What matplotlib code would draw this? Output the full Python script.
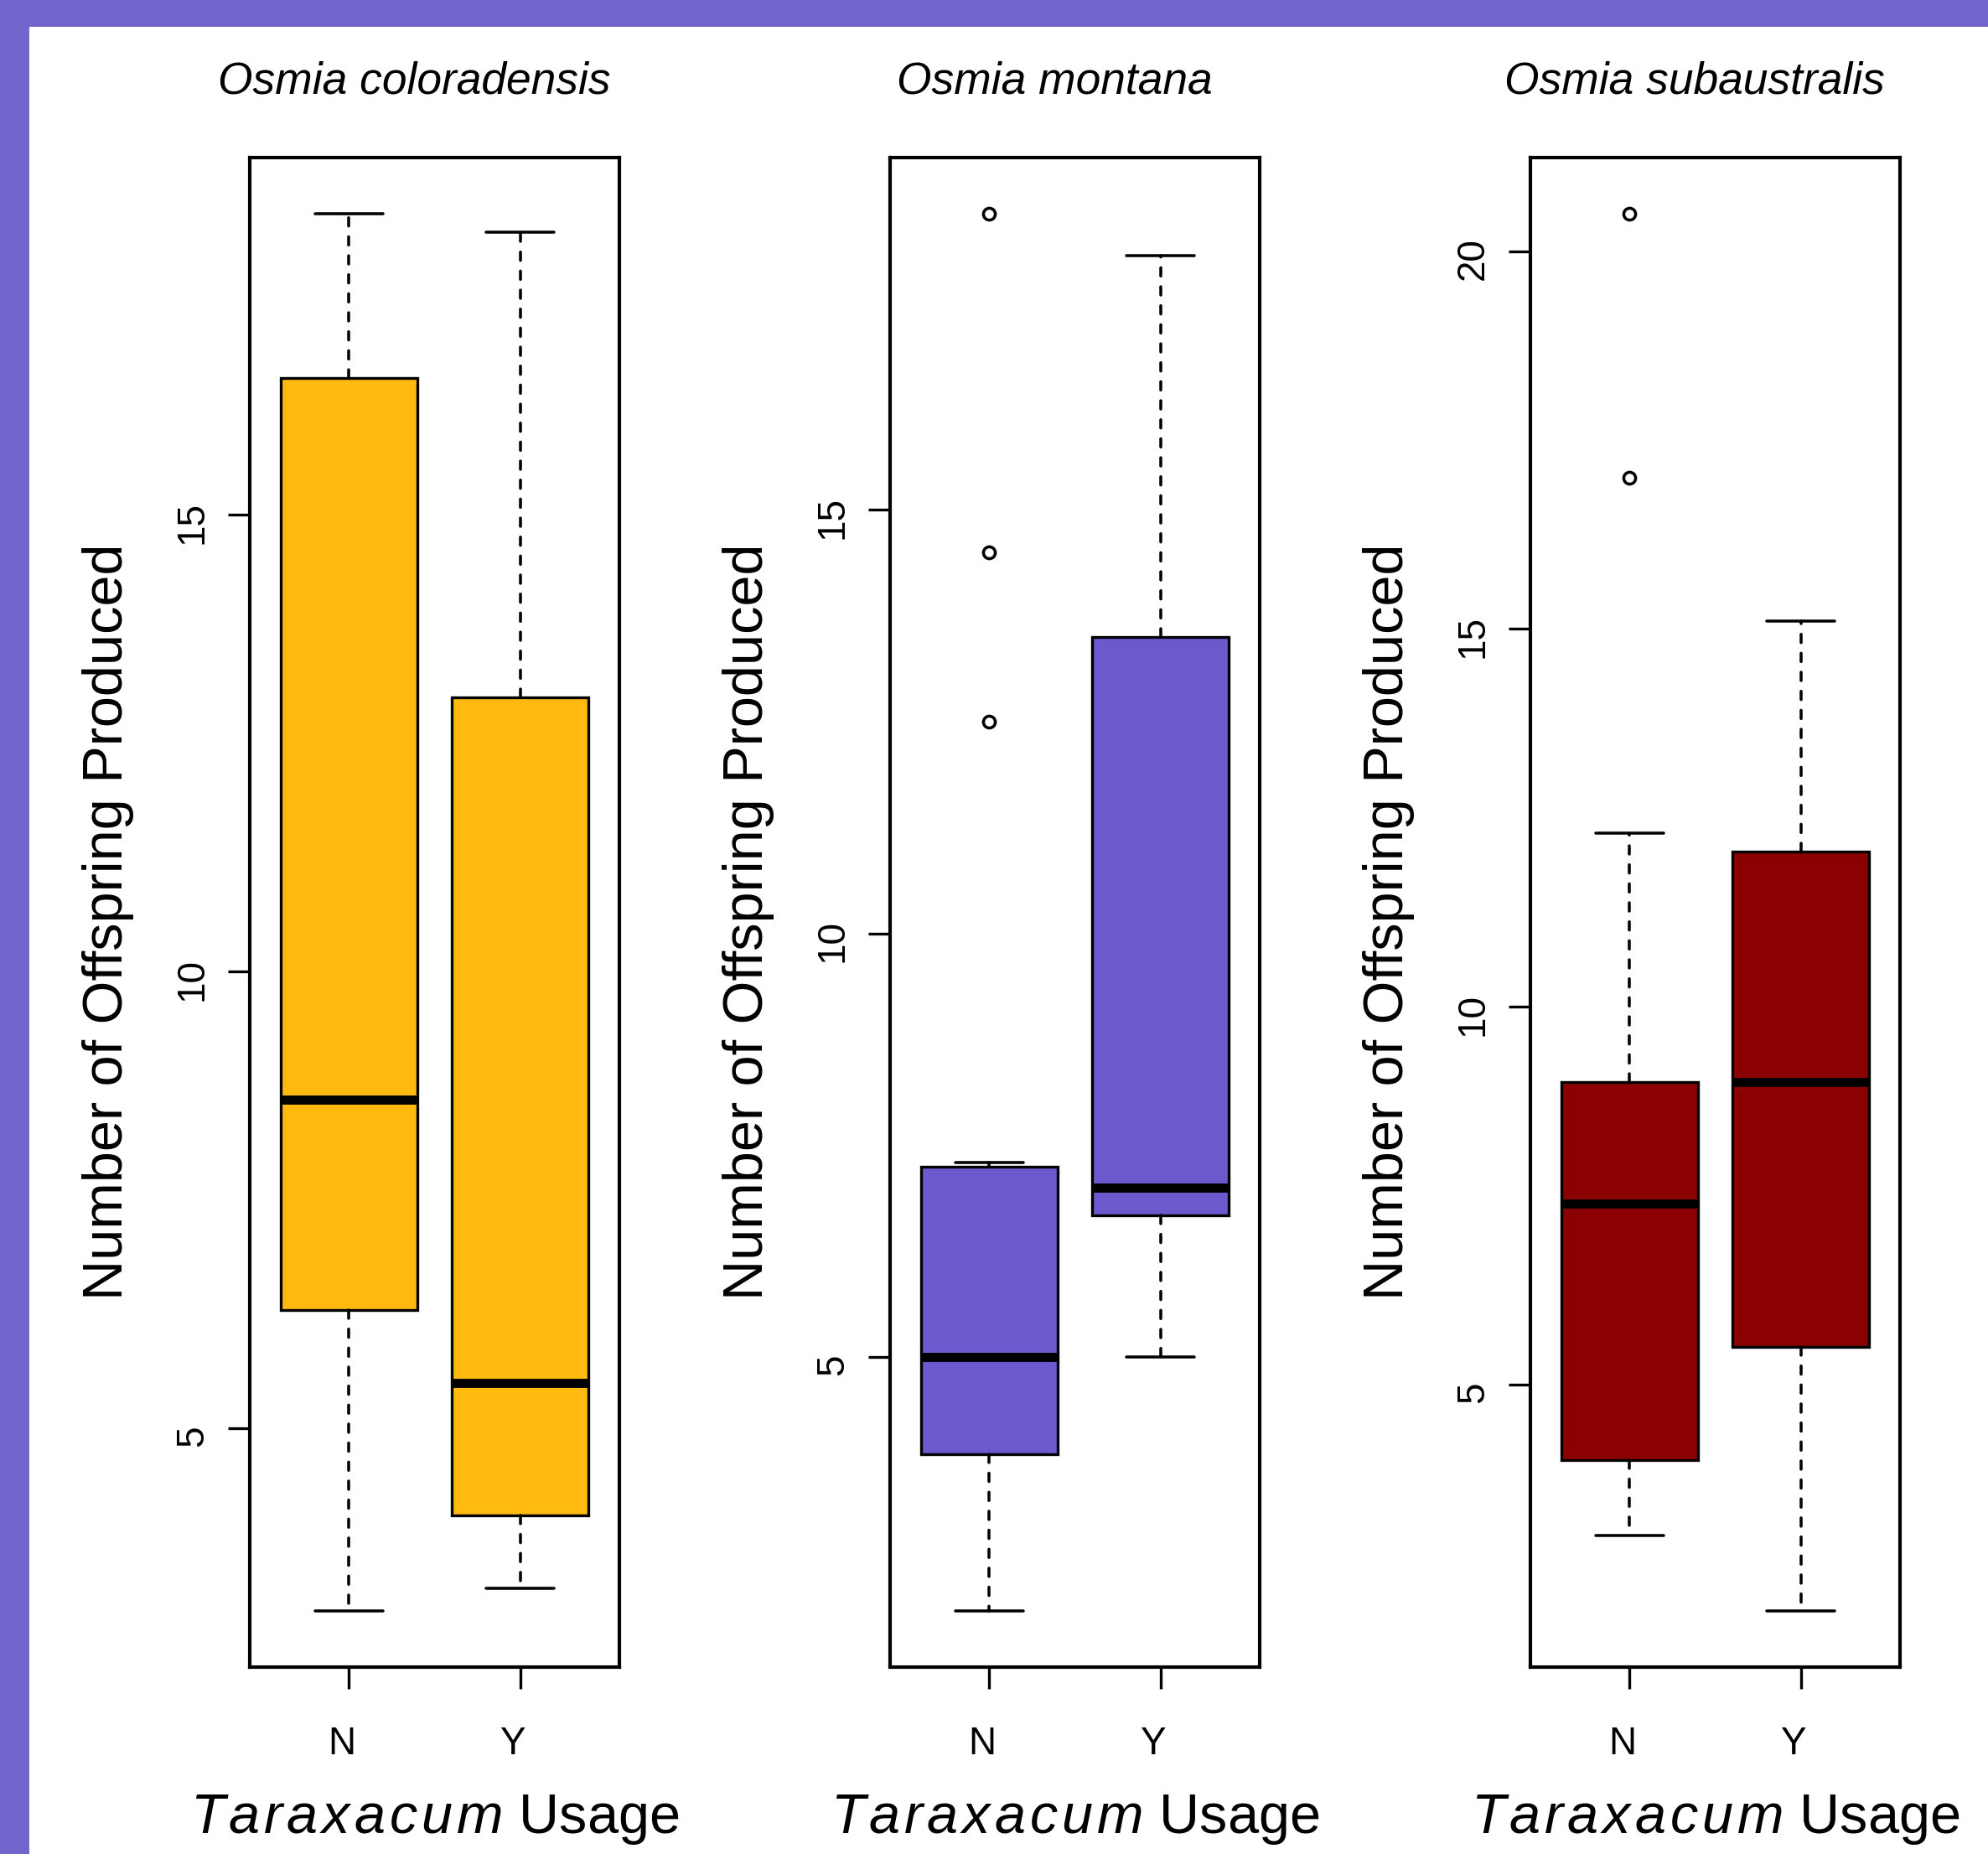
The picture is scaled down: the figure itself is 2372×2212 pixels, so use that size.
import numpy as np
import matplotlib
matplotlib.use('Agg')
import matplotlib.pyplot as plt
from matplotlib.patches import Rectangle
from matplotlib.transforms import ScaledTranslation

plt.rcParams['font.family'] = ['Liberation Sans', 'DejaVu Sans']
plt.rcParams['mathtext.fontset'] = 'custom'
plt.rcParams['mathtext.it'] = 'Liberation Sans:italic'
plt.rcParams['mathtext.rm'] = 'Liberation Sans'

# data, one entry per species, [N, Y]
species = ['Osmia coloradensis', 'Osmia montana', 'Osmia subaustralis']
groups = ['N', 'Y']
colors = ['#FFB90F', '#6A5ACD', '#8B0000']
whislo = [[3.0, 3.25], [2.0, 5.0], [3.0, 2.0]]
q1 = [[6.3, 4.05], [3.85, 6.67], [4.0, 5.5]]
med = [[8.6, 5.5], [5.0, 7.0], [7.4, 9.0]]
q3 = [[16.5, 13.0], [7.25, 13.5], [9.0, 12.05]]
whishi = [[18.3, 18.1], [7.3, 18.0], [12.3, 15.1]]
fliers = [[[], []], [[12.5, 14.5, 18.5], []], [[17.0, 20.5], []]]
yticks = [[5, 10, 15], [5, 10, 15], [5, 10, 15, 20]]

W, H = 2372, 2212
DPI = 300
fig = plt.figure(figsize=(W / DPI, H / DPI), dpi=DPI)
fig.patch.set_facecolor('#7265cc')
fig.patches.append(Rectangle((35 / W, 0), 1, 1 - 32 / H, transform=fig.transFigure,
                             facecolor='white', edgecolor='none', zorder=-10))

lefts = [298, 1062, 1826]
aw = 441
bottom, top = 1989, 188

xlab = r'$' + r'\hspace{0.09}'.join(r'\mathit{%s}' % c for c in 'Taraxacum') + r'$ Usage'

def shift(px_x, px_y):
    return ScaledTranslation(px_x / DPI, px_y / DPI, fig.dpi_scale_trans)

for i in range(3):
    ax = fig.add_axes([lefts[i] / W, 1 - bottom / H, aw / W, (bottom - top) / H])
    ax.set_zorder(1)
    stats = []
    for j in range(2):
        stats.append(dict(whislo=whislo[i][j], q1=q1[i][j], med=med[i][j],
                          q3=q3[i][j], whishi=whishi[i][j], fliers=fliers[i][j]))
    ax.bxp(stats, positions=[1, 2], widths=0.8, capwidths=0.4, patch_artist=True,
           manage_ticks=False,
           boxprops=dict(facecolor=colors[i], edgecolor='black', linewidth=0.8),
           medianprops=dict(color='black', linewidth=2.6, solid_capstyle='butt'),
           whiskerprops=dict(color='black', linewidth=0.85, linestyle=(0, (2.8, 3.6)),
                             dash_capstyle='round'),
           capprops=dict(color='black', linewidth=0.85, solid_capstyle='round'),
           flierprops=dict(marker='o', markerfacecolor='none', markeredgecolor='black',
                           markersize=3.4, markeredgewidth=0.85))

    vals = whislo[i] + whishi[i] + fliers[i][0] + fliers[i][1]
    lo, hi = min(vals), max(vals)
    ext = 0.04 * (hi - lo)
    ax.set_ylim(lo - ext, hi + ext)
    ax.set_xlim(0.5 - 0.04 * 2, 2.5 + 0.04 * 2)

    ax.set_xticks([1, 2])
    ax.set_xticklabels(groups)
    ax.set_yticks(yticks[i])
    ax.set_yticklabels([str(t) for t in yticks[i]])
    ax.tick_params(axis='both', length=6.3, width=0.8, labelsize=11, direction='out')
    ax.tick_params(axis='x', pad=10.4)
    ax.tick_params(axis='y', pad=4.8)
    for lab in ax.get_yticklabels():
        lab.set_rotation(90)
        lab.set_va('center')
        lab.set_ha('right')
        lab.set_transform(lab.get_transform() + shift(0, -9))
    for lab in ax.get_xticklabels():
        lab.set_transform(lab.get_transform() + shift(-9, 0))
    for sp in ax.spines.values():
        sp.set_linewidth(1.0)

    ax.set_title(species[i], fontsize=12.8, style='italic', pad=18.3, x=0.445)
    ax.set_ylabel('Number of Offspring Produced', fontsize=16, labelpad=11.5)
    ax.yaxis.label.set_transform(ax.yaxis.label.get_transform() + shift(0, -11))
    ax.set_xlabel(xlab, fontsize=16, labelpad=8.7)

fig.savefig('out.png', dpi=DPI, facecolor=fig.get_facecolor())
